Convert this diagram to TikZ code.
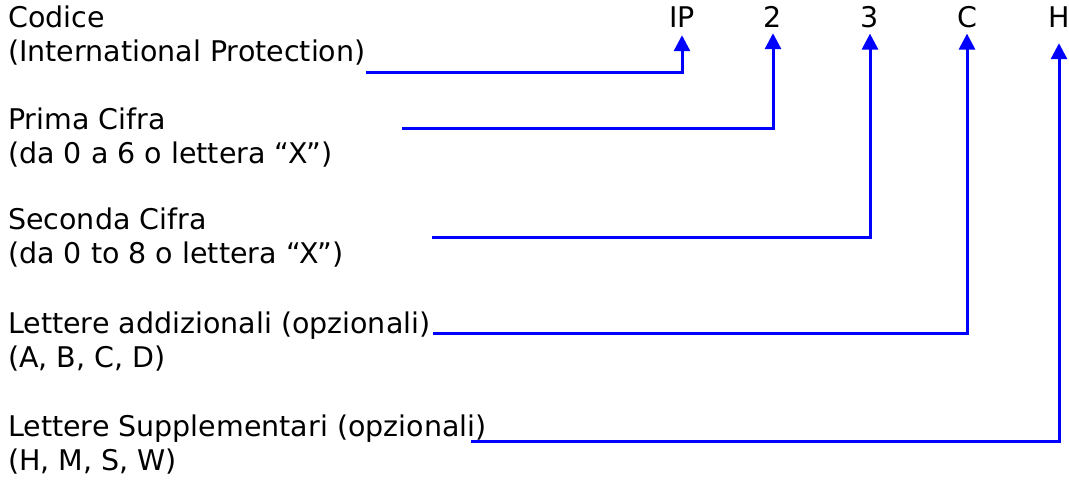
\documentclass[tikz,border=0pt]{standalone}
\usepackage{fontspec}
\setmainfont{DejaVu Sans}
\usetikzlibrary{arrows.meta,positioning}

\tikzset{
	descr/.style={anchor=base west, align=left, inner sep=0pt, font=\fontsize{28.5}{33.5}\selectfont},
	code/.style={anchor=base, inner sep=0pt, font=\fontsize{28.5}{33.5}\selectfont},
	link/.style={draw=blue, line width=3pt, -{Triangle[length=16pt,width=16pt]}}
}

\begin{document}
\begin{tikzpicture}[x=1pt,y=-1pt]
	\useasboundingbox (0,0) rectangle (1069,480);

	% codice IP
	\node	[code]	(ip)	at (682,27)		{IP};
	\node	[code]	(c1)	at (773,27)		{2};
	\node	[code]	(c2)	at (870,27)		{3};
	\node	[code]	(la)	at (967,27)		{C};
	\node	[code]	(ls)	at (1059,27)	{H};

	% descrizioni (base = ultima riga)
	\node	[descr]	(dip)	at (8,61)	{Codice\\(International Protection)};
	\node	[descr]	(dc1)	at (8,163)	{Prima Cifra\\(da 0 a 6 o lettera “X”)};
	\node	[descr]	(dc2)	at (8,263)	{Seconda Cifra\\(da 0 to 8 o lettera “X”)};
	\node	[descr]	(dla)	at (8,367)	{Lettere addizionali (opzionali)\\(A, B, C, D)};
	\node	[descr]	(dls)	at (8,470)	{Lettere Supplementari (opzionali)\\(H, M, S, W)};

	% inizio dei collegamenti
	\coordinate (sip) at (366,72);
	\coordinate (sc1) at (402,128);
	\coordinate (sc2) at (432,237);
	\coordinate (sla) at (433,333);
	\coordinate (sls) at (471,441);

	\draw	[link, shorten >=8pt]	(sip) -| (ip.south);
	\draw	[link, shorten >=6pt]	(sc1) -| (c1.south);
	\draw	[link, shorten >=6pt]	(sc2) -| (c2.south);
	\draw	[link, shorten >=6pt]	(sla) -| (la.south);
	\draw	[link, shorten >=16pt]	(sls) -| (ls.south);
\end{tikzpicture}
\end{document}
